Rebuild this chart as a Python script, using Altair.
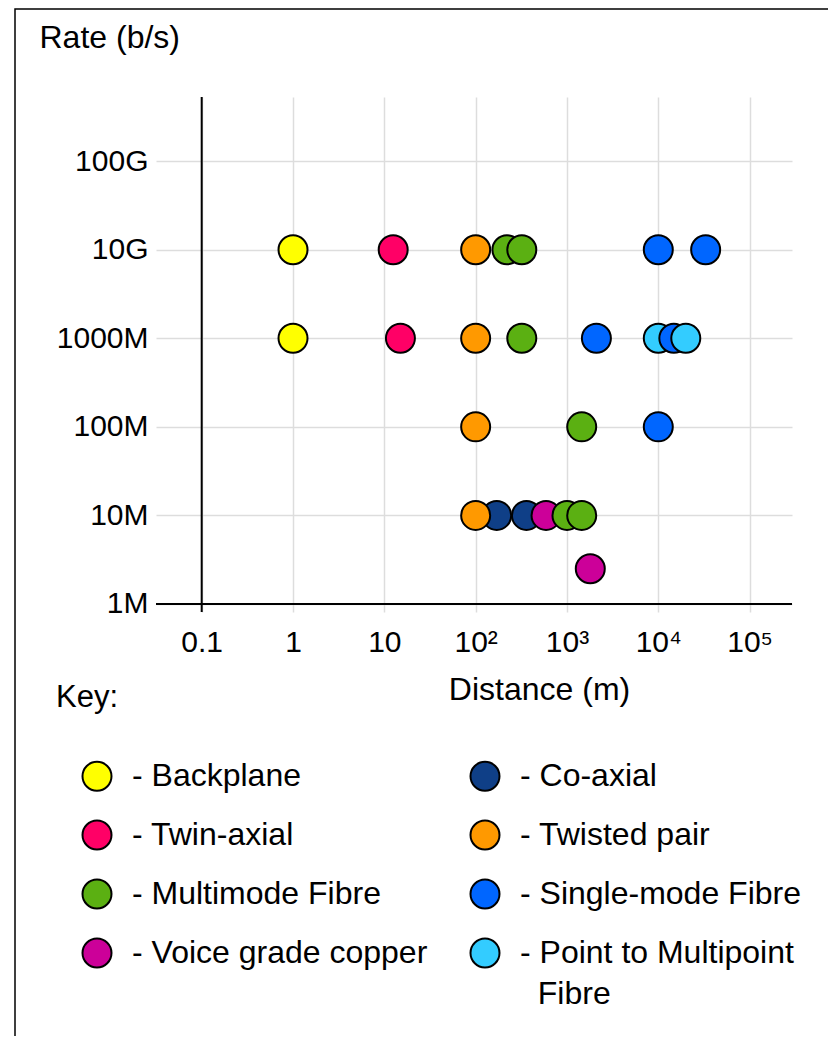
import altair as alt
import pandas as pd

FONT = "Liberation Sans"

# Legend categories (column-major order of the two-column key) and their colours
media_order = [
    "Backplane", "Twin-axial", "Multimode Fibre", "Voice grade copper",
    "Co-axial", "Twisted pair", "Single-mode Fibre", "Point to Multipoint Fibre",
]
media_colors = [
    "#ffff00", "#ff0066", "#5bb012", "#cc0099",
    "#0f3f87", "#ff9900", "#0066ff", "#33ccff",
]

# Points (listed in drawing order)
point_media = [
    "Backplane", "Twin-axial", "Twisted pair", "Multimode Fibre", "Multimode Fibre",
    "Single-mode Fibre", "Single-mode Fibre",
    "Backplane", "Twin-axial", "Twisted pair", "Multimode Fibre", "Single-mode Fibre",
    "Point to Multipoint Fibre", "Single-mode Fibre", "Point to Multipoint Fibre",
    "Twisted pair", "Multimode Fibre", "Single-mode Fibre",
    "Co-axial", "Twisted pair", "Co-axial", "Voice grade copper", "Multimode Fibre",
    "Multimode Fibre",
    "Voice grade copper",
]
point_distance_m = [
    1, 12.5, 100, 220, 320, 10000, 33000,
    1, 15, 100, 320, 2100, 10000, 14800, 20000,
    100, 1450, 10000,
    170, 100, 360, 590, 1000, 1450,
    1800,
]
point_rate_bps = [
    1e10, 1e10, 1e10, 1e10, 1e10, 1e10, 1e10,
    1e9, 1e9, 1e9, 1e9, 1e9, 1e9, 1e9, 1e9,
    1e8, 1e8, 1e8,
    1e7, 1e7, 1e7, 1e7, 1e7, 1e7,
    2.5e6,
]

x_tick_values = [0.1, 1, 10, 100, 1000, 10000, 100000]
x_tick_labels = ["0.1", "1", "10", "10²", "10³", "10⁴", "10⁵"]
y_tick_values = [1e6, 1e7, 1e8, 1e9, 1e10, 1e11]
y_tick_labels = ["1M", "10M", "100M", "1000M", "10G", "100G"]

axis_origin_distance = 0.1
axis_origin_rate = 1e6

df = pd.DataFrame({
    "medium": point_media,
    "distance": point_distance_m,
    "rate": point_rate_bps,
    "draw": list(range(len(point_media))),
})

x_label_expr = "[" + ",".join("'" + s + "'" for s in x_tick_labels) + "][round(log(datum.value)/LN10)+1]"
y_label_expr = "[" + ",".join("'" + s + "'" for s in y_tick_labels) + "][round(log(datum.value)/LN10)-6]"

x_scale = alt.Scale(type="log", domain=[0.03159, 291200], nice=False)
y_scale = alt.Scale(type="log", domain=[8.102e5, 5.318e11], nice=False)

common_axis = dict(
    labelFont=FONT, labelFontSize=30, labelColor="black",
    titleFont=FONT, titleFontSize=32, titleFontWeight="normal", titleColor="black",
    ticks=False, tickSize=0, domain=False,
    grid=True, gridColor="#dddddd", gridWidth=1.5,
    labelOverlap=False, labelFlush=False, titleAngle=0,
)

x_axis = alt.Axis(
    values=x_tick_values, labelExpr=x_label_expr, title="Distance (m)",
    labelPadding=15, titleX=383, titleY=87, titleAlign="center",
    titleBaseline="alphabetic", **common_axis,
)
y_axis = alt.Axis(
    values=y_tick_values, labelExpr=y_label_expr, title="Rate (b/s)",
    labelPadding=8, titleX=-117, titleY=-50, titleAlign="left",
    titleBaseline="alphabetic", **common_axis,
)

ZWSP = "\u200b"
NBSP = "\u00a0"
legend_label_expr = (
    "datum.label == 'Point to Multipoint Fibre' ? "
    "['- Point to Multipoint', '" + ZWSP + NBSP + NBSP + "Fibre'] : '- ' + datum.label"
)

legend = alt.Legend(
    orient="none", legendX=-100, legendY=586, padding=0,
    title="Key:", titleFont=FONT, titleFontSize=31, titleFontWeight="normal",
    titleColor="black", titlePadding=46, titleAlign="left",
    columns=2, columnPadding=16, rowPadding=21,
    symbolType="circle", symbolSize=841, symbolStrokeWidth=2,
    symbolStrokeColor="black", symbolOpacity=1, symbolOffset=25,
    labelOffset=19, labelFont=FONT, labelFontSize=32, labelColor="black",
    labelLimit=0, labelExpr=legend_label_expr,
)

frame = alt.Chart(pd.DataFrame({"f": [0]})).mark_rect(
    fillOpacity=0, stroke="black", strokeWidth=1.5
).encode(
    x=alt.value(-141), x2=alt.value(720), y=alt.value(-88), y2=alt.value(1000)
)

y_axis_line = alt.Chart(pd.DataFrame({"f": [0]})).mark_rule(
    color="black", strokeWidth=2
).encode(x=alt.datum(axis_origin_distance))

x_axis_line = alt.Chart(pd.DataFrame({"f": [0]})).mark_rule(
    color="black", strokeWidth=2
).encode(y=alt.datum(axis_origin_rate))

points = alt.Chart(df).mark_circle(
    size=841, opacity=1, stroke="black", strokeWidth=2
).encode(
    x=alt.X("distance:Q", scale=x_scale, axis=x_axis),
    y=alt.Y("rate:Q", scale=y_scale, axis=y_axis),
    fill=alt.Fill("medium:N", scale=alt.Scale(domain=media_order, range=media_colors), legend=legend),
    order=alt.Order("draw:Q"),
)

chart = alt.layer(frame, y_axis_line, x_axis_line, points).properties(
    width=636, height=515,
    autosize=alt.AutoSizeParams(type="none"),
    padding={"left": 148, "top": 89, "right": 36, "bottom": 424},
    background="white",
).configure(
    style={"guide-label": {"lineHeight": 41}}
).configure_view(strokeWidth=0)

chart.save("out.html", embed_options={"renderer": "svg", "actions": False})
